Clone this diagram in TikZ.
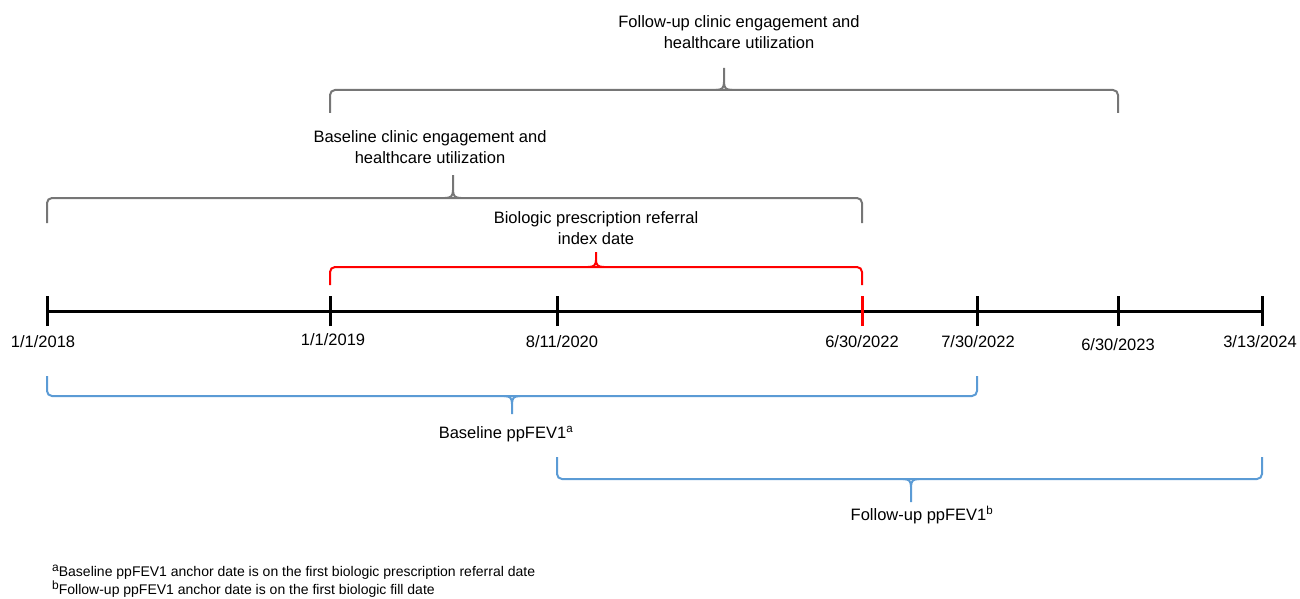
\documentclass[tikz,border=0pt]{standalone}
\usepackage{fontspec}
\setmainfont{Liberation Sans}
\definecolor{bracegray}{RGB}{118,118,118}
\definecolor{braceblue}{RGB}{91,155,213}
\definecolor{bracered}{RGB}{255,0,0}
\usetikzlibrary{positioning}

\newcommand{\notemark}[1]{\raisebox{5pt}{\fontsize{12}{12}\selectfont #1}}

\begin{document}
\begin{tikzpicture}[x=1pt, y=-1pt,
  tick/.style={line width=3pt},
  datelbl/.style={anchor=base, inner sep=0pt, font=\fontsize{16.5}{19}\selectfont},
  bracelbl/.style={align=center, inner sep=0pt, font=\fontsize{16.5}{21}\selectfont},
  period/.style={line width=2pt, rounded corners=5pt},
  cusp/.style={line width=2pt}]
  \useasboundingbox (0,0) rectangle (1300,599);

  % Timeline
  \coordinate (t2018) at (47,311);
  \coordinate (t2019) at (330,311);
  \coordinate (t2020) at (557,311);
  \coordinate (t2022a) at (862,311);
  \coordinate (t2022b) at (977,311);
  \coordinate (t2023) at (1118,311);
  \coordinate (t2024) at (1262,311);
  \draw[line width=3pt] (t2018) -- (t2024);
  \foreach \c in {t2018,t2019,t2020,t2022b,t2023,t2024}
    \draw[tick] ([yshift=-15pt]\c) -- ([yshift=15pt]\c);
  \draw[tick, bracered] ([yshift=-15pt]t2022a) -- ([yshift=15pt]t2022a);

  % Dates
  \node[datelbl] (d2018) at (43,347) {1/1/2018};
  \node[datelbl] (d2019) at (333,345) {1/1/2019};
  \node[datelbl] (d2020) at (562,347) {8/11/2020};
  \node[datelbl] (d2022a) at (862,347) {6/30/2022};
  \node[datelbl] (d2022b) at (978,347) {7/30/2022};
  \node[datelbl] (d2023) at (1118,350) {6/30/2023};
  \node[datelbl] (d2024) at (1260,347) {3/13/2024};

  % Follow-up clinic engagement (gray)
  \draw[period, bracegray] (330,113) -- (330,90) -- (1118,90) -- (1118,113);
  \draw[cusp, bracegray] (716,90) .. controls (722,90) and (724,88) .. (724,82) -- (724,68)
    -- (724,82) .. controls (724,88) and (726,90) .. (732,90);
  \node[bracelbl] (fuclinic) at (739,32) {Follow-up clinic engagement and\\healthcare utilization};

  % Baseline clinic engagement (gray)
  \draw[period, bracegray] (47,223) -- (47,198) -- (862,198) -- (862,223);
  \draw[cusp, bracegray] (445,198) .. controls (451,198) and (453,196) .. (453,190) -- (453,175)
    -- (453,190) .. controls (453,196) and (455,198) .. (461,198);
  \node[bracelbl] (blclinic) at (430,147) {Baseline clinic engagement and\\healthcare utilization};

  % Index date (red)
  \draw[period, bracered] (330,285) -- (330,267) -- (862,267) -- (862,285);
  \draw[cusp, bracered] (588,267) .. controls (594,267) and (596,265) .. (596,260) -- (596,252)
    -- (596,260) .. controls (596,265) and (598,267) .. (604,267);
  \node[bracelbl] (index) at (596,228) {Biologic prescription referral\\index date};

  % Baseline ppFEV1 (blue)
  \draw[period, braceblue] (47,376) -- (47,396) -- (977,396) -- (977,376);
  \draw[cusp, braceblue] (504,396) .. controls (510,396) and (512,398) .. (512,404) -- (512,414)
    -- (512,404) .. controls (512,398) and (514,396) .. (520,396);
  \node[bracelbl] (blfev) at (506,434) {Baseline ppFEV1\textsuperscript{a}};

  % Follow-up ppFEV1 (blue)
  \draw[period, braceblue] (557,457) -- (557,479) -- (1262,479) -- (1262,457);
  \draw[cusp, braceblue] (903,479) .. controls (909,479) and (911,481) .. (911,487) -- (911,502)
    -- (911,487) .. controls (911,481) and (913,479) .. (919,479);
  \node[bracelbl] (fufev) at (922,515) {Follow-up ppFEV1\textsuperscript{b}};

  % Footnotes
  \node[anchor=west, align=left, inner sep=0pt, font=\fontsize{14}{15}\selectfont] (notes) at (52,581)
    {\notemark{a}Baseline ppFEV1 anchor date is on the first biologic prescription referral date\\
     \notemark{b}Follow-up ppFEV1 anchor date is on the first biologic fill date};
\end{tikzpicture}
\end{document}
